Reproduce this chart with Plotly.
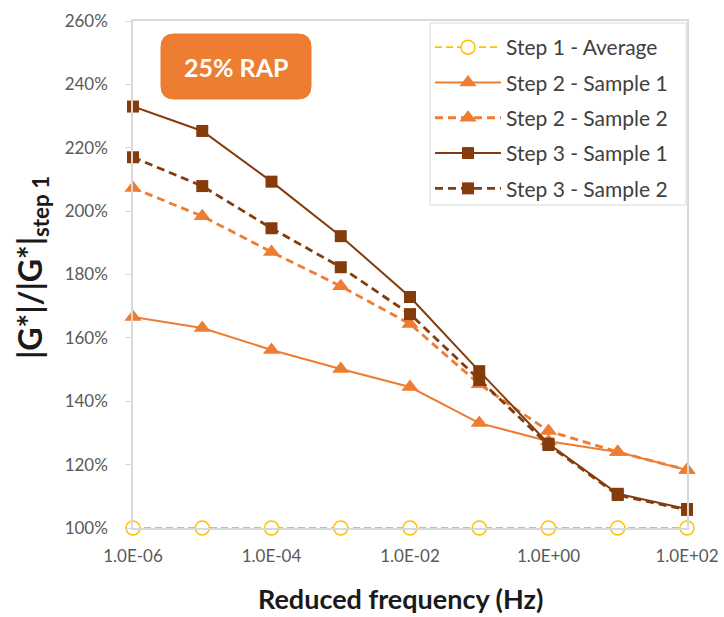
import plotly.graph_objects as go

freq = [1e-6, 1e-5, 1e-4, 1e-3, 1e-2, 1e-1, 1e0, 1e1, 1e2]
step1_avg = [100, 100, 100, 100, 100, 100, 100, 100, 100]
step2_s1 = [166.6, 163.1, 156.2, 150.2, 144.5, 133.1, 127.4, 124.0, 118.3]
step2_s2 = [207.3, 198.4, 187.1, 176.3, 164.4, 145.4, 130.6, 124.0, 118.3]
step3_s1 = [233.0, 225.3, 209.3, 192.1, 172.9, 149.5, 126.6, 110.8, 106.0]
step3_s2 = [217.0, 207.9, 194.6, 182.3, 167.5, 146.7, 126.2, 110.4, 105.7]

x_tickvals = [1e-6, 1e-4, 1e-2, 1e0, 1e2]
x_ticktext = ["1.0E-06", "1.0E-04", "1.0E-02", "1.0E+00", "1.0E+02"]

YELLOW = "#FFC000"
ORANGE = "#ED7D31"
BROWN = "#843C0C"
FONT = "Lato"

fig = go.Figure()

series = [
    ("Step 1 - Average", step1_avg, YELLOW, "7px,4px", dict(symbol="circle", size=14, color="white", line=dict(color=YELLOW, width=1.5)), 1.8),
    ("Step 2 - Sample 1", step2_s1, ORANGE, "solid", dict(symbol="triangle-up", size=15, color=ORANGE, line=dict(width=0)), 2.0),
    ("Step 2 - Sample 2", step2_s2, ORANGE, "8px,5px", dict(symbol="triangle-up", size=15, color=ORANGE, line=dict(width=0)), 2.8),
    ("Step 3 - Sample 1", step3_s1, BROWN, "solid", dict(symbol="square", size=12, color=BROWN, line=dict(width=0)), 2.0),
    ("Step 3 - Sample 2", step3_s2, BROWN, "8px,5px", dict(symbol="square", size=12, color=BROWN, line=dict(width=0)), 2.8),
]

for i, (name, vals, color, dash, marker, w) in enumerate(series):
    fig.add_trace(go.Scatter(
        x=freq, y=vals, name=name, mode="lines+markers",
        line=dict(color=color, width=w, dash=dash),
        marker=marker, cliponaxis=False, legendgroup=f"g{i}",
    ))

# plot area geometry (px)
L, R, T, B = 133, 687, 21, 528
W, H = R - L, B - T

def px(x):
    return (x - L) / W

def py(y):
    return (B - y) / H

# legend frame
fig.add_shape(type="rect", xref="paper", yref="paper",
              x0=px(430), x1=px(686), y0=py(205), y1=py(23),
              fillcolor="white", line=dict(color="#d9d9d9", width=1), layer="above")

# rounded box for "25% RAP"
x0, x1, y0, y1 = 161, 311, 34, 99
r = 13
rx, ry = r / W, r / H
X0, X1, Y0, Y1 = px(x0), px(x1), py(y1), py(y0)
path = (f"M {X0+rx},{Y0} L {X1-rx},{Y0} Q {X1},{Y0} {X1},{Y0+ry} "
        f"L {X1},{Y1-ry} Q {X1},{Y1} {X1-rx},{Y1} L {X0+rx},{Y1} "
        f"Q {X0},{Y1} {X0},{Y1-ry} L {X0},{Y0+ry} Q {X0},{Y0} {X0+rx},{Y0} Z")
fig.add_shape(type="path", xref="paper", yref="paper", path=path,
              fillcolor=ORANGE, line=dict(color=ORANGE, width=1))
fig.add_annotation(xref="paper", yref="paper", x=px((x0 + x1) / 2), y=py((y0 + y1) / 2),
                   xanchor="center", yanchor="middle",
                   text="<b>25% RAP</b>", showarrow=False,
                   font=dict(family=FONT, size=25, color="white"))

# axis titles as annotations for precise placement
fig.add_annotation(xref="paper", yref="paper", x=px(400), y=py(598),
                   xanchor="center", yanchor="middle", showarrow=False,
                   text="<b>Reduced frequency (Hz)</b>",
                   font=dict(family=FONT, size=27, color="#1a1a1a"))
fig.add_annotation(xref="paper", yref="paper", x=px(32), y=py(268),
                   xanchor="center", yanchor="middle", showarrow=False, textangle=-90,
                   text="<b>|G*|/|G*|<sub>step 1</sub></b>",
                   font=dict(family=FONT, size=32, color="#1a1a1a"))

fig.update_layout(
    width=724, height=617,
    margin=dict(l=L, r=724 - R, t=T, b=617 - B, autoexpand=False),
    paper_bgcolor="white", plot_bgcolor="white",
    font=dict(family=FONT, color="#404040"),
    showlegend=True,
    legend=dict(
        x=px(430), y=py(27), xanchor="left", yanchor="top",
        bgcolor="rgba(0,0,0,0)", borderwidth=0,
        font=dict(family=FONT, size=21, color="#404040"),
        itemwidth=66, tracegroupgap=5,
    ),
)

fig.update_xaxes(
    type="log", range=[-6, 2], automargin=False,
    tickvals=x_tickvals, ticktext=x_ticktext,
    tickfont=dict(family=FONT, size=17, color="#595959"),
    showgrid=False, zeroline=False,
    showline=True, linecolor="#d9d9d9", linewidth=1.5, mirror=True,
    ticks="", ticklabelstandoff=12,
)
fig.update_yaxes(
    range=[100, 260], dtick=20, ticksuffix="%", automargin=False,
    tickfont=dict(family=FONT, size=17, color="#595959"),
    showgrid=False, zeroline=False,
    showline=True, linecolor="#d9d9d9", linewidth=1.5, mirror=True,
    ticks="outside", ticklen=6, tickcolor="#d9d9d9", ticklabelstandoff=14,
)

fig.write_html("out.html", config={"displayModeBar": False},
               post_script="document.body.style.margin='0';document.body.style.overflow='hidden';")
